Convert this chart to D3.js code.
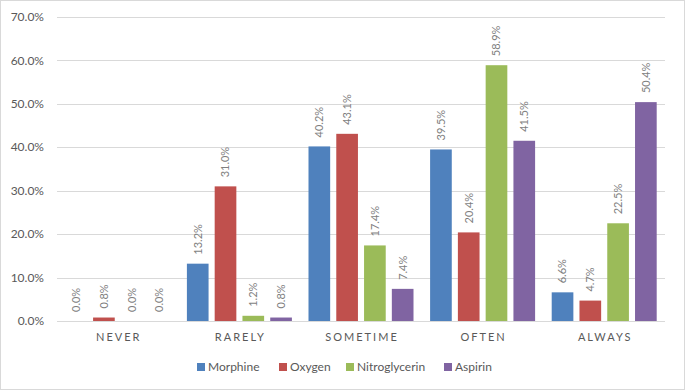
<!DOCTYPE html>
<html>
<head>
<meta charset="utf-8">
<script src="https://d3js.org/d3.v7.min.js"></script>
<style>
  body { margin: 0; background: #fff; }
  svg { font-family: Lato, "Open Sans", sans-serif; }
</style>
</head>
<body>
<svg width="685" height="390"></svg>
<script>
var categories = ['NEVER', 'RARELY', 'SOMETIME', 'OFTEN', 'ALWAYS'];
var seriesNames = ['Morphine', 'Oxygen', 'Nitroglycerin', 'Aspirin'];
var colors = ['#4f81bd', '#c0504d', '#9bbb59', '#8064a2'];
var morphine = [0.0, 13.2, 40.2, 39.5, 6.6];
var oxygen = [0.8, 31.0, 43.1, 20.4, 4.7];
var nitroglycerin = [0.0, 1.2, 17.4, 58.9, 22.5];
var aspirin = [0.0, 0.8, 7.4, 41.5, 50.4];
var yTicks = [0, 10, 20, 30, 40, 50, 60, 70];

var seriesValues = [morphine, oxygen, nitroglycerin, aspirin];

var svg = d3.select('svg');

// outer border
svg.append('rect')
    .attr('x', 0.5).attr('y', 0.5)
    .attr('width', 684).attr('height', 389)
    .attr('fill', '#fff')
    .attr('stroke', '#d9d9d9');

/* plot area */
var plotLeft = 57, plotRight = 665, plotTop = 17, plotBottom = 321;

var y = d3.scaleLinear().domain([0, 70]).range([plotBottom, plotTop]);
var x0 = d3.scaleBand().domain(categories).range([plotLeft, plotRight]);
var x1 = d3.scaleBand().domain(seriesNames)
    .range([8.3, x0.bandwidth() - 8.3])
    .paddingInner(0.22);

// gridlines
svg.append('g').selectAll('line').data(yTicks).enter().append('line')
    .attr('x1', plotLeft).attr('x2', plotRight)
    .attr('y1', function(d) { return Math.round(y(d)) + 0.5; })
    .attr('y2', function(d) { return Math.round(y(d)) + 0.5; })
    .attr('stroke', '#d9d9d9')
    .attr('stroke-width', 1);

// y labels
svg.append('g').selectAll('text').data(yTicks).enter().append('text')
    .attr('x', 44)
    .attr('y', function(d) { return y(d); })
    .attr('dy', '0.35em')
    .attr('text-anchor', 'end')
    .attr('font-size', 12)
    .attr('fill', '#595959')
    .text(function(d) { return d.toFixed(1) + '%'; });

// bars
var groups = svg.append('g').selectAll('g').data(seriesNames).enter().append('g')
    .attr('fill', function(d, i) { return colors[i]; });

groups.each(function(name, si) {
    var g = d3.select(this);
    var vals = seriesValues[si];
    g.selectAll('rect').data(vals).enter().append('rect')
        .attr('x', function(v, ci) { return x0(categories[ci]) + x1(name); })
        .attr('y', function(v) { return y(v); })
        .attr('width', x1.bandwidth())
        .attr('height', function(v) { return plotBottom - y(v); });

    g.selectAll('text').data(vals).enter().append('text')
        .attr('transform', function(v, ci) {
            var cx = x0(categories[ci]) + x1(name) + x1.bandwidth() / 2;
            var cy = y(v) - 9;
            return 'translate(' + cx + ',' + cy + ') rotate(-90)';
        })
        .attr('dy', '0.35em')
        .attr('text-anchor', 'start')
        .attr('font-size', 11)
        .attr('fill', '#7f7f7f')
        .text(function(v) { return v.toFixed(1) + '%'; });
});

// category labels (spacing adds a trailing gap, so nudge right by half of it)
var spacing = 2;
svg.append('g').selectAll('text').data(categories).enter().append('text')
    .attr('x', function(d) { return x0(d) + x0.bandwidth() / 2 + spacing / 2; })
    .attr('y', 341)
    .attr('text-anchor', 'middle')
    .attr('font-size', 11)
    .attr('letter-spacing', spacing)
    .attr('fill', '#595959')
    .text(function(d) { return d; });

// legend
var legendX = [197, 279, 346, 444];
var legend = svg.append('g').selectAll('g').data(seriesNames).enter().append('g')
    .attr('transform', function(d, i) { return 'translate(' + legendX[i] + ',367)'; });
legend.append('rect')
    .attr('x', 0).attr('y', -4)
    .attr('width', 8).attr('height', 8)
    .attr('fill', function(d, i) { return colors[i]; });
legend.append('text')
    .attr('x', 11)
    .attr('dy', '0.35em')
    .attr('font-size', 12)
    .attr('fill', '#595959')
    .text(function(d) { return d; });
</script>
</body>
</html>
